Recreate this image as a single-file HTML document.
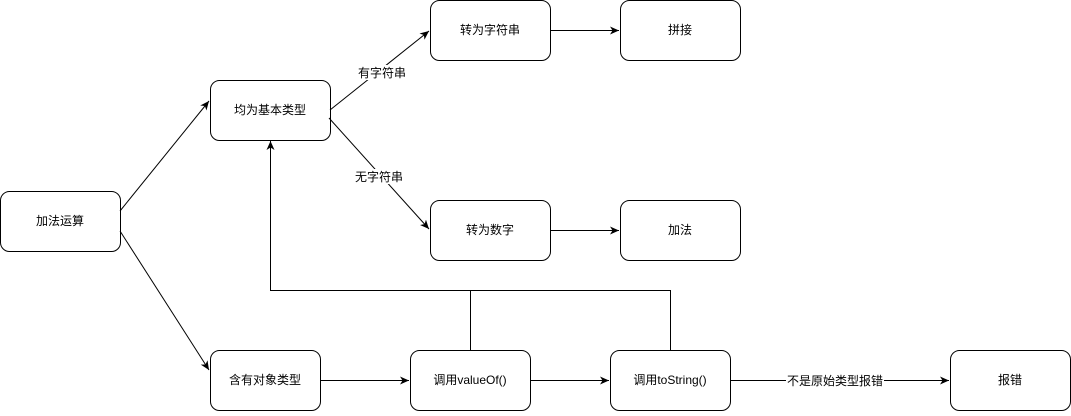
<!DOCTYPE html>
<html><head><meta charset="utf-8"><style>
html,body{margin:0;padding:0;background:#fff;}
svg text{font-family:"Liberation Sans","Noto Sans CJK SC",sans-serif;font-size:12px;fill:#000;}
</style></head><body>
<svg width="1071" height="411" viewBox="0 0 1071 411" xmlns="http://www.w3.org/2000/svg">
<defs><marker id="a" markerWidth="10" markerHeight="10" refX="9" refY="5" orient="auto" markerUnits="userSpaceOnUse"><path d="M0,1 L9,5 L0,9 L2.5,5 Z" fill="#000"/></marker></defs>
<g fill="#fff" stroke="#000" stroke-width="1">
<rect x="0.5" y="191.5" width="120" height="60" rx="9"/>
<rect x="210.5" y="80.5" width="120" height="60" rx="9"/>
<rect x="430.5" y="0.5" width="120" height="60" rx="9"/>
<rect x="620.5" y="0.5" width="120" height="60" rx="9"/>
<rect x="430.5" y="200.5" width="120" height="60" rx="9"/>
<rect x="620.5" y="200.5" width="120" height="60" rx="9"/>
<rect x="210.5" y="350.5" width="110" height="60" rx="9"/>
<rect x="410.5" y="350.5" width="120" height="60" rx="9"/>
<rect x="610.5" y="350.5" width="120" height="60" rx="9"/>
<rect x="950.5" y="350.5" width="120" height="60" rx="9"/>
</g>
<g stroke="#000" stroke-width="1" fill="none">
<line x1="120" y1="211" x2="209" y2="101" marker-end="url(#a)"/>
<line x1="120" y1="231" x2="209" y2="370" marker-end="url(#a)"/>
<line x1="330" y1="110" x2="429" y2="31" marker-end="url(#a)"/>
<line x1="329" y1="118" x2="429" y2="229" marker-end="url(#a)"/>
<line x1="550" y1="30.5" x2="619" y2="30.5" marker-end="url(#a)"/>
<line x1="550" y1="230.5" x2="619" y2="230.5" marker-end="url(#a)"/>
<line x1="320" y1="380.5" x2="409" y2="380.5" marker-end="url(#a)"/>
<line x1="530" y1="380.5" x2="609" y2="380.5" marker-end="url(#a)"/>
<line x1="730" y1="380.5" x2="949" y2="380.5" marker-end="url(#a)"/>
<polyline points="470.5,350 470.5,290.5 270.5,290.5 270.5,141" marker-end="url(#a)"/>
<polyline points="670.5,350 670.5,290.5 470.5,290.5"/>
</g>
<rect x="357" y="65" width="50" height="15" fill="#fff"/>
<rect x="354" y="169" width="50" height="15" fill="#fff"/>
<rect x="786" y="373" width="98" height="15" fill="#fff"/>
<g text-anchor="middle">
<text x="60" y="225">加法运算</text>
<text x="270" y="114">均为基本类型</text>
<text x="490" y="34">转为字符串</text>
<text x="680" y="34">拼接</text>
<text x="490" y="234">转为数字</text>
<text x="680" y="234">加法</text>
<text x="265" y="384">含有对象类型</text>
<text x="470" y="384">调用valueOf()</text>
<text x="670" y="384">调用toString()</text>
<text x="1010" y="384">报错</text>
<text x="382" y="77" font-size="11">有字符串</text>
<text x="379" y="181" font-size="11">无字符串</text>
<text x="835" y="385" font-size="11">不是原始类型报错</text>
</g>
</svg>
</body></html>
